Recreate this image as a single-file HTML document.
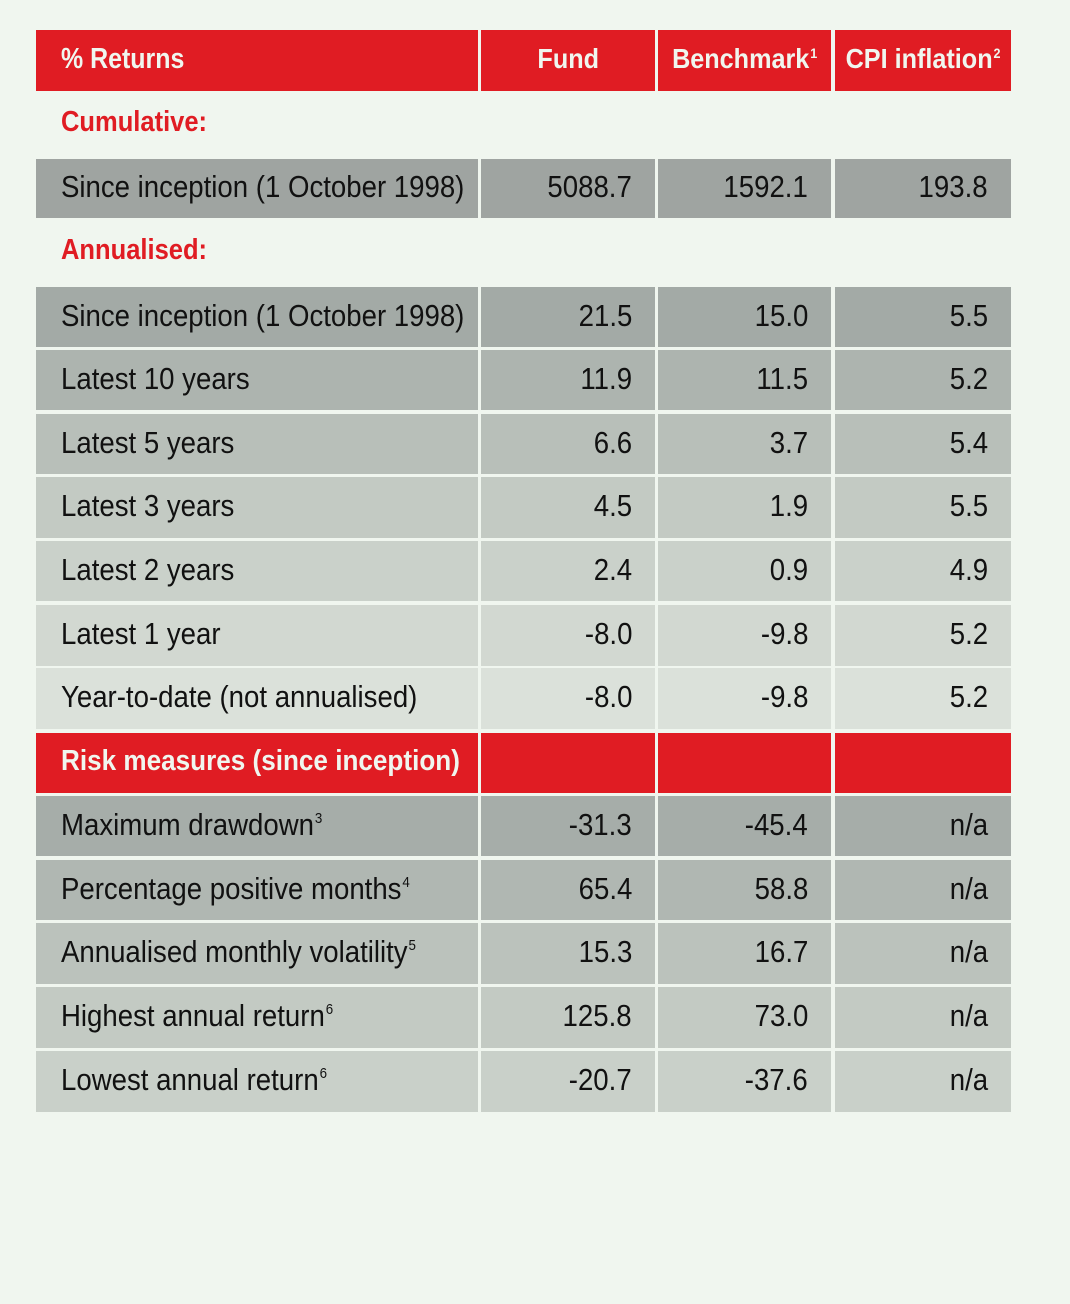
<!DOCTYPE html>
<html><head><meta charset="utf-8"><style>
body{margin:0;width:1070px;height:1304px;background:#f0f6ef;position:relative;overflow:hidden;font-family:"Liberation Sans",sans-serif;}
.c{position:absolute;box-sizing:border-box;color:#111;display:flex;align-items:center;white-space:nowrap;padding-bottom:3px;}
.c span{display:inline-block;font-size:31px;transform:scaleX(0.89);}
.l{padding-left:25px;}
.l span{transform-origin:left center;}
.r{justify-content:flex-end;padding-right:23px;}
.r span{transform-origin:right center;}
.h{background:#e01c23;color:#f0f6ef;font-weight:bold;}
.h span{font-size:29px;transform:scaleX(0.9);}
.hd1 span{transform:scaleX(0.86);}
.ctr{justify-content:center;}
.ctr span{transform-origin:center center;transform:scaleX(0.9);font-size:28px;}
.lab{position:absolute;left:61px;color:#e01c23;font-weight:bold;font-size:29px;transform:scaleX(0.88);transform-origin:left center;}
sup{font-size:15px;vertical-align:top;position:relative;top:3px;margin-left:1px;}
.h sup{font-size:14px;top:2px;}
</style></head><body>
<div class="c h l hd1" style="left:36px;top:30px;width:442px;height:61px"><span>% Returns</span></div>
<div class="c h ctr" style="left:481px;top:30px;width:174px;height:61px"><span>Fund</span></div>
<div class="c h ctr" style="left:658px;top:30px;width:173px;height:61px"><span>Benchmark<sup>1</sup></span></div>
<div class="c h ctr" style="left:835px;top:30px;width:176px;height:61px"><span>CPI inflation<sup>2</sup></span></div>
<div class="lab" style="top:106px">Cumulative:</div>
<div class="lab" style="top:234px">Annualised:</div>
<div id="rows"></div>
<script>
var rows=[
[159,59,"#9fa4a1","Since inception (1 October 1998)","5088.7","1592.1","193.8"],
[287,60,"#a3aaa6","Since inception (1 October 1998)","21.5","15.0","5.5"],
[350,60,"#adb4af","Latest 10 years","11.9","11.5","5.2"],
[414,60,"#b8bfb9","Latest 5 years","6.6","3.7","5.4"],
[477,61,"#c3cac3","Latest 3 years","4.5","1.9","5.5"],
[541,60,"#cad1ca","Latest 2 years","2.4","0.9","4.9"],
[605,61,"#d2d8d1","Latest 1 year","-8.0","-9.8","5.2"],
[668,61,"#dbe1da","Year-to-date (not annualised)","-8.0","-9.8","5.2"],
[733,60,"H","Risk measures (since inception)","","",""],
[796,60,"#a6ada9","Maximum drawdown<sup>3</sup>","-31.3","-45.4","n/a"],
[860,60,"#b0b7b2","Percentage positive months<sup>4</sup>","65.4","58.8","n/a"],
[923,61,"#bbc2bc","Annualised monthly volatility<sup>5</sup>","15.3","16.7","n/a"],
[987,61,"#c3cac3","Highest annual return<sup>6</sup>","125.8","73.0","n/a"],
[1051,61,"#c9d0c9","Lowest annual return<sup>6</sup>","-20.7","-37.6","n/a"]];
var cols=[[36,442],[481,174],[658,173],[835,176]];
var h="";
rows.forEach(function(r){
 for(var i=0;i<4;i++){
  var hd=r[2]=="H";
  var st="left:"+cols[i][0]+"px;top:"+r[0]+"px;width:"+cols[i][1]+"px;height:"+r[1]+"px;"+(hd?"":"background:"+r[2]);
  h+='<div class="c '+(hd?"h ":"")+(i==0?"l":"r")+'" style="'+st+'"><span>'+r[3+i]+'</span></div>';
 }
});
document.getElementById("rows").innerHTML=h;
</script>
</body></html>
